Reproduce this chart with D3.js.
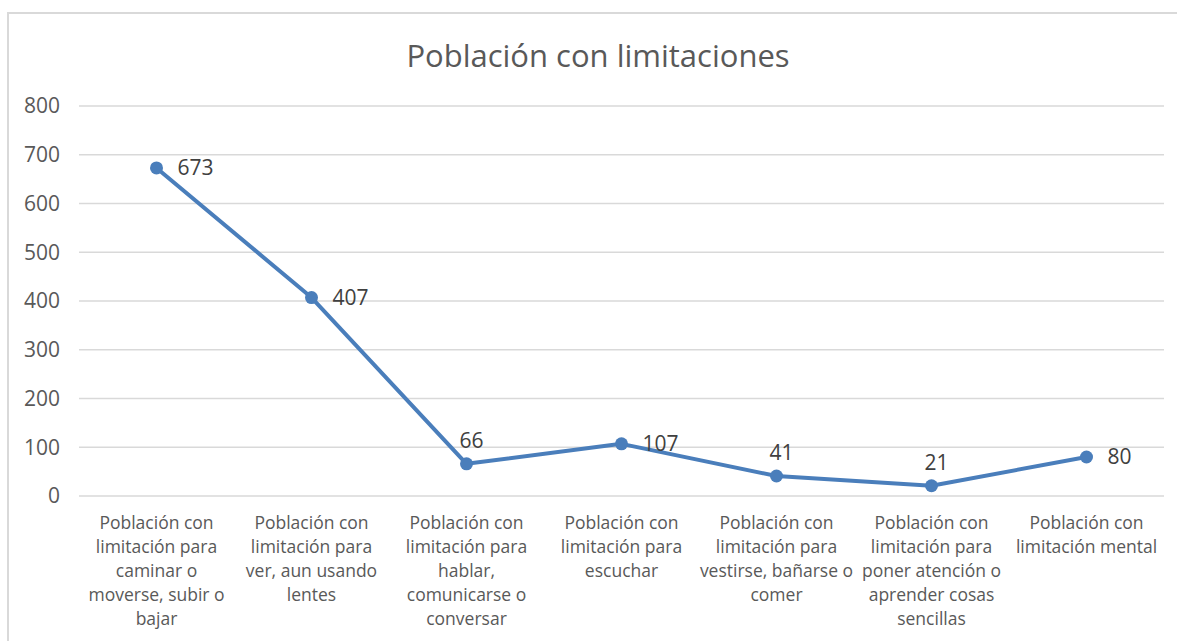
<!DOCTYPE html>
<html>
<head>
<meta charset="utf-8">
<script src="https://cdn.jsdelivr.net/npm/d3@7"></script>
<style>
  body { margin: 0; background: #fff; }
  text { font-family: "Open Sans", "DejaVu Sans", sans-serif; fill: #595959; }
</style>
</head>
<body>
<div id="chart"></div>
<script>
// categories, one entry per line of the wrapped axis label
const categories = [
  ['Población con', 'limitación  para', 'caminar o', 'moverse, subir o', 'bajar'],
  ['Población con', 'limitación  para', 'ver, aun usando', 'lentes'],
  ['Población con', 'limitación  para', 'hablar,', 'comunicarse o', 'conversar'],
  ['Población con', 'limitación  para', 'escuchar'],
  ['Población con', 'limitación  para', 'vestirse, bañarse o', 'comer'],
  ['Población con', 'limitación  para', 'poner atención o', 'aprender cosas', 'sencillas'],
  ['Población con', 'limitación mental']
]
const values = [673, 407, 66, 107, 41, 21, 80]
const labelPos = ['right', 'right', 'above', 'right', 'above', 'above', 'right']
const yTicks = [0, 100, 200, 300, 400, 500, 600, 700, 800]
const title = 'Población con limitaciones'

const W = 1177, H = 641
const m = { top: 106, right: 13, bottom: 145, left: 79 } // plot box

const svg = d3.select('#chart').append('svg')
  .attr('width', W).attr('height', H)

// chart frame (cut off on right and bottom in the reference)
svg.append('rect')
  .attr('x', 8).attr('y', 13)
  .attr('width', W + 20).attr('height', H + 20)
  .attr('fill', 'none')
  .attr('stroke', '#d9d9d9').attr('stroke-width', 2)

svg.append('text')
  .attr('x', 598).attr('y', 67)
  .attr('text-anchor', 'middle')
  .style('font-size', '31px')
  .text(title)

const x = d3.scalePoint()
  .domain(d3.range(categories.length))
  .range([m.left, W - m.right])
  .padding(0.5)

const y = d3.scaleLinear()
  .domain([0, 800])
  .range([H - m.bottom, m.top])

// gridlines
svg.append('g')
  .selectAll('line')
  .data(yTicks)
  .join('line')
  .attr('x1', m.left).attr('x2', W - m.right)
  .attr('y1', d => y(d)).attr('y2', d => y(d))
  .attr('stroke', '#d9d9d9').attr('stroke-width', 1.3)

// y tick labels
svg.append('g')
  .selectAll('text')
  .data(yTicks)
  .join('text')
  .attr('x', 60).attr('y', d => y(d))
  .attr('dy', '0.35em')
  .attr('text-anchor', 'end')
  .style('font-size', '21px')
  .text(d => d)

// category labels
const cat = svg.append('g')
  .selectAll('text')
  .data(categories)
  .join('text')
  .attr('text-anchor', 'middle')
  .attr('transform', (d, i) => `translate(${x(i)},529)`)
  .style('font-size', '17.5px')
cat.selectAll('tspan')
  .data(d => d)
  .join('tspan')
  .attr('x', 0)
  .attr('y', (d, i) => i * 24)
  .text(d => d)

// line
const line = d3.line()
  .x((d, i) => x(i))
  .y(d => y(d))

svg.append('path')
  .datum(values)
  .attr('d', line)
  .attr('fill', 'none')
  .attr('stroke', '#4a7ebb')
  .attr('stroke-width', 4)
  .attr('stroke-linejoin', 'round')

svg.append('g')
  .selectAll('circle')
  .data(values)
  .join('circle')
  .attr('cx', (d, i) => x(i))
  .attr('cy', d => y(d))
  .attr('r', 6.5)
  .attr('fill', '#4a7ebb')

// data labels
svg.append('g')
  .selectAll('text')
  .data(values)
  .join('text')
  .attr('x', (d, i) => labelPos[i] === 'right' ? x(i) + 21 : x(i) + 5)
  .attr('y', (d, i) => labelPos[i] === 'right' ? y(d) : y(d) - 23)
  .attr('dy', '0.35em')
  .attr('text-anchor', (d, i) => labelPos[i] === 'right' ? 'start' : 'middle')
  .style('font-size', '21px')
  .style('fill', '#404040')
  .text(d => d)
</script>
</body>
</html>
